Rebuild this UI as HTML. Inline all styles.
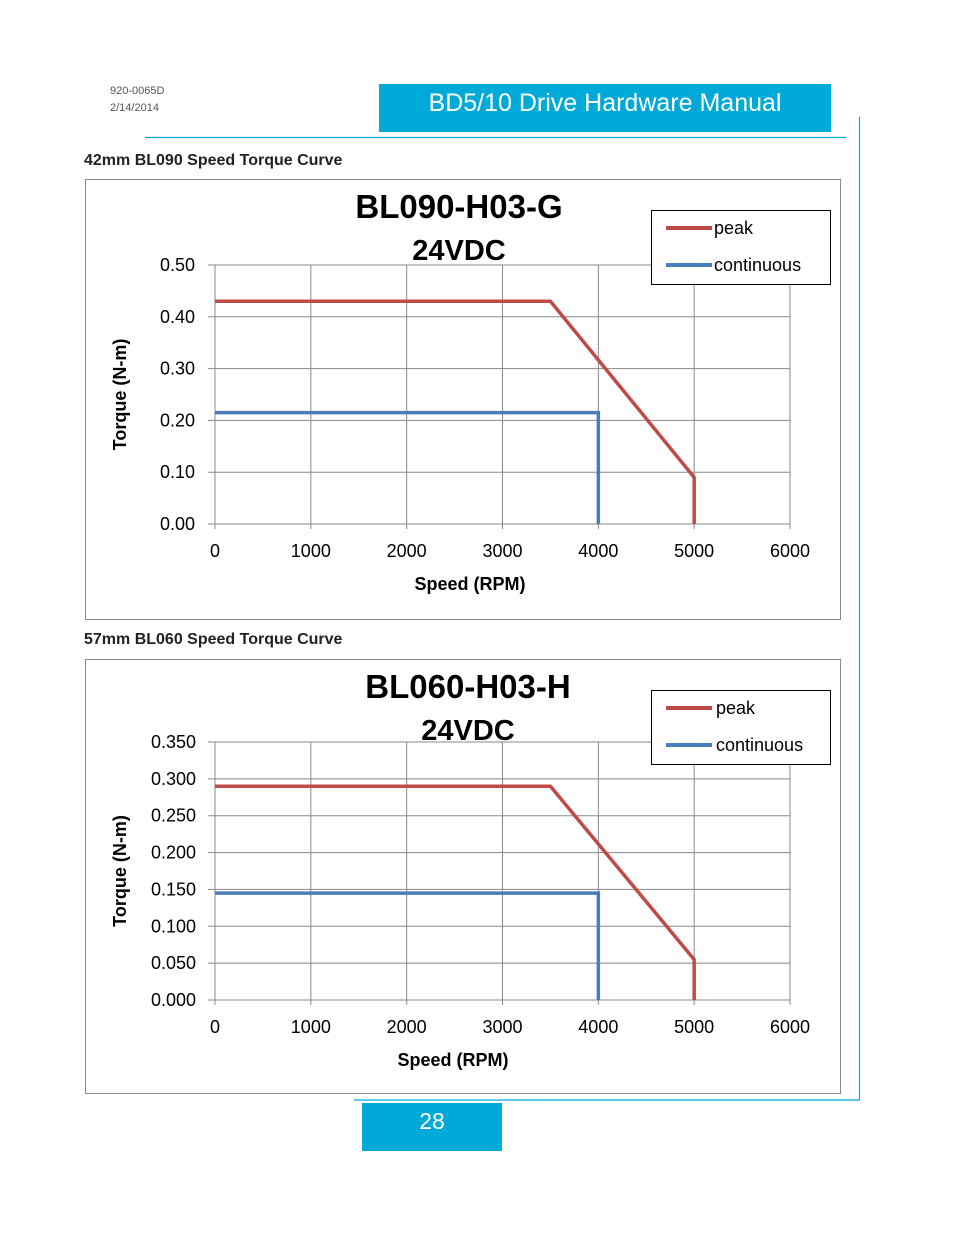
<!DOCTYPE html>
<html><head><meta charset="utf-8"><style>
html,body{margin:0;padding:0;background:#fff;}
svg{display:block;font-family:"Liberation Sans",sans-serif;}
</style></head><body>
<svg id="page" width="954" height="1235" viewBox="0 0 954 1235">
<text x="110" y="94" font-size="11" fill="#555">920-0065D</text>
<text x="110" y="111" font-size="11" fill="#555">2/14/2014</text>
<rect x="379" y="84" width="452" height="48" fill="#00aad8"/>
<text x="605" y="111" font-size="25" fill="#fff" text-anchor="middle">BD5/10 Drive Hardware Manual</text>
<line x1="145" y1="137.5" x2="846" y2="137.5" stroke="#00aad8" stroke-width="1.2"/>
<line x1="859.5" y1="117" x2="859.5" y2="1100" stroke="#00aad8" stroke-width="1.2"/>
<line x1="354" y1="1100" x2="860" y2="1100" stroke="#00aad8" stroke-width="1.2"/>
<rect x="362" y="1103" width="140" height="48" fill="#00aad8"/>
<text x="432" y="1129" font-size="23" fill="#fff" text-anchor="middle">28</text>
<text x="84" y="165" font-size="16" font-weight="bold" fill="#222">42mm BL090 Speed Torque Curve</text>
<text x="84" y="644" font-size="16" font-weight="bold" fill="#222">57mm BL060 Speed Torque Curve</text>
<g id="c1"></g><g id="c2"></g>
</svg>
<script>
const xTicks=[0,1000,2000,3000,4000,5000,6000];
const c1YTicks=[0,0.1,0.2,0.3,0.4,0.5];
const c1PeakX=[0,3500,5000,5000];
const c1PeakY=[0.43,0.43,0.09,0];
const c1ContX=[0,4000,4000];
const c1ContY=[0.215,0.215,0];
const c2YTicks=[0,0.05,0.1,0.15,0.2,0.25,0.3,0.35];
const c2PeakX=[0,3500,5000,5000];
const c2PeakY=[0.29,0.29,0.055,0];
const c2ContX=[0,4000,4000];
const c2ContY=[0.145,0.145,0];
const NS="http://www.w3.org/2000/svg";
function mk(p,t,a){const e=document.createElementNS(NS,t);for(const k in a)e.setAttribute(k,a[k]);p.appendChild(e);return e;}
function chart(g,o){
 const fr=mk(g,'rect',{x:85.5,y:o.fy+.5,width:755,height:o.fh,fill:'#fff',stroke:'#888'});
 
 
 const X=v=>215+v/6000*575, Y=v=>o.y0-v/o.ymax*(o.y0-o.y1);
 xTicks.forEach(t=>{
  const l=mk(g,'line',{x1:X(t),x2:X(t),y1:o.y1,y2:o.y0+5,stroke:'#888'});
  
  
  const tx=mk(g,'text',{x:X(t),y:o.y0+33,'font-size':18,'text-anchor':'middle',fill:'#000'});tx.textContent=t;
  
  
 });
 o.yt.forEach(t=>{
  const l=mk(g,'line',{x1:208,x2:790,y1:Y(t),y2:Y(t),stroke:'#888'});
  
  
  const tx=mk(g,'text',{x:o.ylx,y:Y(t)+6,'font-size':18,'text-anchor':'end',fill:'#000'});tx.textContent=t.toFixed(o.dec);
  
  
 });
 const pl=(xs,ys,c,n)=>{const p=mk(g,'polyline',{points:xs.map((x,i)=>X(x)+','+Y(ys[i])).join(' '),fill:'none',stroke:c,'stroke-width':3.5});
  
  };
 pl(o.cx,o.cy,'#4a7ebb','continuous-line');pl(o.px,o.py,'#be4b48','peak-line');
 const tt=mk(g,'text',{x:o.tx,y:o.fy+39,'font-size':33,'font-weight':'bold','text-anchor':'middle'});tt.textContent=o.title;
 
 
 const t2=mk(g,'text',{x:o.tx2,y:o.fy+81,'font-size':29,'font-weight':'bold','text-anchor':'middle'});t2.textContent='24VDC';
 
 
 const lg=mk(g,'rect',{x:651.5,y:o.fy+31.5,width:179,height:74,fill:'#fff',stroke:'#000'});
 
 
 [['peak','#be4b48',49],['continuous','#4a7ebb',86]].forEach(([n,c,dy])=>{
  const l=mk(g,'line',{x1:666,x2:712,y1:o.fy+dy,y2:o.fy+dy,stroke:c,'stroke-width':4});
  
  
  const t=mk(g,'text',{x:o.lgx,y:o.fy+dy+6,'font-size':18});t.textContent=n;
  
  
 });
 const xl=mk(g,'text',{x:o.xlx,y:o.y0+66,'font-size':18,'font-weight':'bold','text-anchor':'middle'});xl.textContent='Speed (RPM)';
 
 
 const cy=(o.y0+o.y1)/2;
 const yl=mk(g,'text',{x:126,y:cy,'font-size':18,'font-weight':'bold','text-anchor':'middle',transform:`rotate(-90 126 ${cy})`});yl.textContent='Torque (N-m)';
 
 
}
chart(document.getElementById('c1'),{fy:179,fh:440,y0:524,y1:265,ymax:0.5,yt:c1YTicks,dec:2,ylx:195,px:c1PeakX,py:c1PeakY,cx:c1ContX,cy:c1ContY,title:'BL090-H03-G',tx:459,tx2:459,lgx:714,xlx:470});
chart(document.getElementById('c2'),{fy:659,fh:434,y0:1000,y1:742,ymax:0.35,yt:c2YTicks,dec:3,ylx:196,px:c2PeakX,py:c2PeakY,cx:c2ContX,cy:c2ContY,title:'BL060-H03-H',tx:468,tx2:468,lgx:716,xlx:453});
</script>
</body></html>
